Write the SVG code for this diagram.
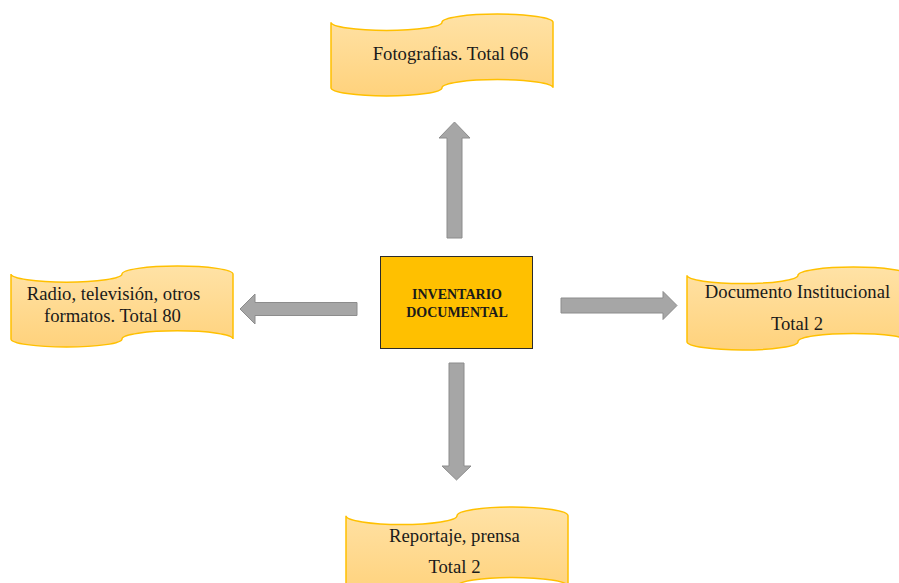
<svg xmlns="http://www.w3.org/2000/svg" width="899" height="583" viewBox="0 0 899 583">
<defs>
<linearGradient id="gold" x1="0" y1="0" x2="0" y2="1">
<stop offset="0" stop-color="#FFE2A6"/>
<stop offset="1" stop-color="#FFD27C"/>
</linearGradient>
<style>
.tape{fill:url(#gold);stroke:#FFC000;stroke-width:1.5}
.lbl{font-family:"Liberation Serif","Times New Roman",serif;font-size:18.7px;fill:#1a1a1a;text-anchor:middle}
.ctr{font-family:"Liberation Serif","Times New Roman",serif;font-size:14px;font-weight:bold;fill:#1a1a1a;text-anchor:middle}
.arr{fill:#A6A6A6;stroke:#8C8C8C;stroke-width:1}
</style>
</defs>
<rect width="899" height="583" fill="#ffffff"/>
<g id="connectors">
<polygon class="arr" points="447,238 462,238 462,138 470,138 454.5,122 439,138 447,138"/>
<polygon class="arr" points="357,302.5 357,315.5 255,315.5 255,324 240,309 255,294 255,302.5"/>
<polygon class="arr" points="561,298 663,298 663,291.5 677,305.5 663,319.5 663,313 561,313"/>
<polygon class="arr" points="449,363 464,363 464,466 471,466 456.5,480 442,466 449,466"/>
</g>
<g id="center">
<rect x="380.5" y="256.5" width="152" height="92" fill="#FFC000" stroke="#2b2b2b" stroke-width="1"/>
<text class="ctr" x="457" y="299">INVENTARIO</text>
<text class="ctr" x="457" y="317">DOCUMENTAL</text>
</g>
<g id="fotografias">
<path class="tape" d="M331,22.2 A55.5,8.2 0 0 0 442,22.2 A55.5,8.2 0 0 1 553,22.2 L553,87.8 A55.5,8.2 0 0 0 442,87.8 A55.5,8.2 0 0 1 331,87.8 Z"/>
<text class="lbl" x="450.5" y="60">Fotografias. Total 66</text>
</g>
<g id="radio">
<path class="tape" d="M11,274.1 A55.5,8.1 0 0 0 122,274.1 A55.5,8.1 0 0 1 233,274.1 L233,338.9 A55.5,8.1 0 0 0 122,338.9 A55.5,8.1 0 0 1 11,338.9 Z"/>
<text class="lbl" x="113.5" y="300">Radio, televisión, otros</text>
<text class="lbl" x="112.5" y="322">formatos. Total 80</text>
</g>
<g id="documento">
<path class="tape" d="M687,275.3 A55.5,8.3 0 0 0 798,275.3 A55.5,8.3 0 0 1 909,275.3 L909,341.7 A55.5,8.3 0 0 0 798,341.7 A55.5,8.3 0 0 1 687,341.7 Z"/>
<text class="lbl" x="797.5" y="298">Documento Institucional</text>
<text class="lbl" x="797" y="330">Total 2</text>
</g>
<g id="reportaje">
<path class="tape" d="M346,515.8 A55.5,8.8 0 0 0 457,515.8 A55.5,8.8 0 0 1 568,515.8 L568,586.2 A55.5,8.8 0 0 0 457,586.2 A55.5,8.8 0 0 1 346,586.2 Z"/>
<text class="lbl" x="454.5" y="542">Reportaje, prensa</text>
<text class="lbl" x="454.5" y="573">Total 2</text>
</g>
</svg>
